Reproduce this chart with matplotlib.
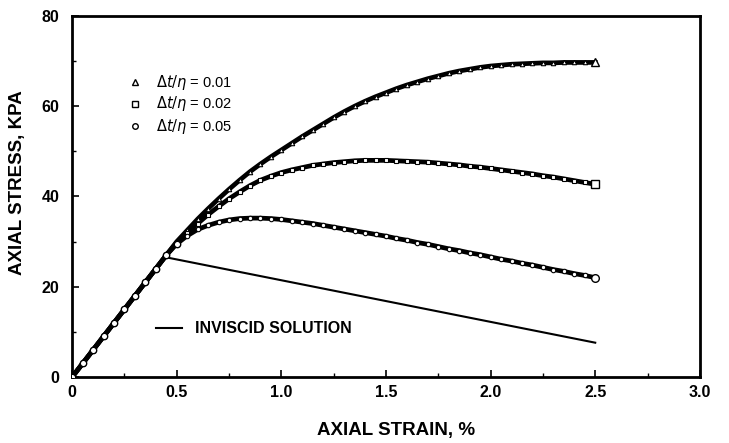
import numpy as np
import matplotlib
matplotlib.use("Agg")
import matplotlib.pyplot as plt
from matplotlib.ticker import MultipleLocator

plt.rcParams['font.family'] = ['Liberation Sans', 'DejaVu Sans']

# axial strain (%) for the viscoplastic runs
strain = [0.00, 0.05, 0.10, 0.15, 0.20, 0.25, 0.30, 0.35, 0.40, 0.45,
          0.50, 0.55, 0.60, 0.65, 0.70, 0.75, 0.80, 0.85, 0.90, 0.95,
          1.00, 1.05, 1.10, 1.15, 1.20, 1.25, 1.30, 1.35, 1.40, 1.45,
          1.50, 1.55, 1.60, 1.65, 1.70, 1.75, 1.80, 1.85, 1.90, 1.95,
          2.00, 2.05, 2.10, 2.15, 2.20, 2.25, 2.30, 2.35, 2.40, 2.45, 2.50]

# axial stress (kPa), dt/eta = 0.01
stress_001 = [0.0, 3.0, 6.0, 9.0, 12.0, 15.0, 18.0, 21.0, 24.0, 27.0,
              30.0, 32.5, 35.0, 37.3, 39.5, 41.6, 43.6, 45.5, 47.2, 48.8,
              50.3, 51.8, 53.3, 54.7, 56.1, 57.5, 58.8, 60.0, 61.1, 62.1,
              63.0, 63.9, 64.7, 65.4, 66.1, 66.7, 67.3, 67.8, 68.2, 68.6,
              68.9, 69.1, 69.3, 69.4, 69.5, 69.6, 69.6, 69.7, 69.7, 69.7, 69.7]

# dt/eta = 0.02
stress_002 = [0.0, 3.0, 6.0, 9.0, 12.0, 15.0, 18.0, 21.0, 24.0, 27.0,
              29.8, 32.0, 34.0, 36.0, 37.8, 39.5, 41.0, 42.4, 43.6, 44.5,
              45.3, 45.9, 46.4, 46.9, 47.2, 47.5, 47.7, 47.9, 48.0, 48.0,
              48.0, 47.9, 47.8, 47.7, 47.6, 47.4, 47.2, 47.0, 46.7, 46.5,
              46.2, 45.9, 45.6, 45.3, 45.0, 44.6, 44.3, 43.9, 43.5, 43.1, 42.7]

# dt/eta = 0.05
stress_005 = [0.0, 3.0, 6.0, 9.0, 12.0, 15.0, 18.0, 21.0, 24.0, 27.0,
              29.5, 31.3, 32.7, 33.6, 34.3, 34.8, 35.1, 35.2, 35.2, 35.1,
              34.9, 34.6, 34.3, 34.0, 33.6, 33.2, 32.8, 32.4, 32.0, 31.6,
              31.2, 30.7, 30.3, 29.8, 29.4, 28.9, 28.4, 28.0, 27.5, 27.1,
              26.6, 26.1, 25.7, 25.2, 24.8, 24.3, 23.8, 23.4, 22.9, 22.5, 22.0]

# inviscid solution
inv_strain = [0.0, 0.44, 2.5]
inv_stress = [0.0, 26.6, 7.6]

labels = [r'$\Delta t/\eta$ = 0.01', r'$\Delta t/\eta$ = 0.02', r'$\Delta t/\eta$ = 0.05']
markers = ['^', 's', 'o']

fig = plt.figure(figsize=(7.29, 4.43), dpi=100)
ax = fig.add_axes([0.099, 0.149, 0.861, 0.815])

ax.plot(inv_strain, inv_stress, color='black', lw=1.5, zorder=2)

for ys, m in zip([stress_001, stress_002, stress_005], markers):
    ax.plot(strain, ys, color='black', lw=3.4, zorder=3)
    ax.plot(strain, ys, ls='none', marker=m, ms=3.2, mfc='white', mec='black',
            mew=0.8, zorder=4)
    # last point stands out at the end of each run
    ax.plot(strain[-1:], ys[-1:], ls='none', marker=m, ms=5.5, mfc='white',
            mec='black', mew=1.0, zorder=5)

# elastic part: circles sit on top
ax.plot(strain[:11], stress_005[:11], ls='none', marker='o', ms=4.6, mfc='white',
        mec='black', mew=1.0, zorder=6)

# legend by hand
leg_y = [65.3, 60.6, 55.6]
for m, lab, yy in zip(markers, labels, leg_y):
    ax.plot([0.30], [yy], ls='none', marker=m, ms=4, mfc='white', mec='black', mew=1.0)
    ax.text(0.40, yy, lab, fontsize=10.5, va='center', ha='left',
            math_fontfamily='dejavusans')

ax.plot([0.40, 0.525], [10.8, 10.8], color='black', lw=1.5)
ax.text(0.585, 10.8, 'INVISCID SOLUTION', fontsize=11.5, fontweight='bold',
        va='center', ha='left')

ax.set_xlim(0, 3.0)
ax.set_ylim(0, 80)
ax.xaxis.set_minor_locator(MultipleLocator(0.25))
ax.yaxis.set_major_locator(MultipleLocator(20))
ax.yaxis.set_minor_locator(MultipleLocator(10))
ax.set_xticks([0, 0.5, 1.0, 1.5, 2.0, 2.5, 3.0])
ax.set_xticklabels(['0', '0.5', '1.0', '1.5', '2.0', '2.5', '3.0'])
ax.tick_params(which='both', direction='in', top=False, right=False)
ax.tick_params(which='major', length=5, width=1.2)
ax.tick_params(which='minor', length=3, width=1.0)
for lab in ax.get_xticklabels() + ax.get_yticklabels():
    lab.set_fontweight('bold')
    lab.set_fontsize(11.5)
ax.tick_params(axis='x', pad=6)
ax.tick_params(axis='y', pad=9)
for sp in ax.spines.values():
    sp.set_linewidth(2)

ax.set_xlabel('AXIAL STRAIN, %', fontsize=13.5, fontweight='bold')
ax.set_ylabel('AXIAL STRESS, KPA', fontsize=13.5, fontweight='bold')
ax.xaxis.set_label_coords(0.516, -0.125)
ax.yaxis.set_label_coords(-0.074, 0.537)

fig.savefig('out.png', dpi=100)
